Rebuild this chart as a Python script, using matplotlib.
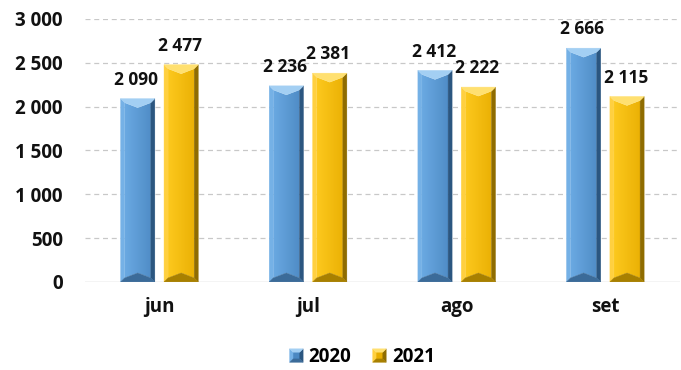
import matplotlib
matplotlib.use("Agg")
import matplotlib.pyplot as plt
from matplotlib.patches import Polygon, Rectangle
from matplotlib.legend_handler import HandlerBase
from matplotlib.colors import LinearSegmentedColormap
import numpy as np

categories = ["jun", "jul", "ago", "set"]
values_2020 = [2090, 2236, 2412, 2666]
values_2021 = [2477, 2381, 2222, 2115]
series_names = ["2020", "2021"]
y_ticks = [0, 500, 1000, 1500, 2000, 2500, 3000]

plt.rcParams["font.family"] = ["Open Sans", "DejaVu Sans"]
plt.rcParams["font.weight"] = "bold"

# facet colours: front-left, front-right, left, right, top, bottom
palettes = {
    "2020": ["#6eade6", "#4b88c2", "#75b1e6", "#2b5680", "#a3cff3", "#3b6b99"],
    "2021": ["#ffcc22", "#e8ad00", "#ffd040", "#8f6c00", "#ffe070", "#a88000"],
}


def fmt(v):
    return f"{v:,.0f}".replace(",", " ")


def bevel_polys(x0, x1, y0, y1, bx, bs, bv):
    """Front, left, right, top and bottom facets of a bevelled bar.
    bx: side bevel width, bs: bevel height at the corners, bv: chevron depth."""
    xc = (x0 + x1) / 2
    front = [(x0 + bx, y0 + bs), (xc, y0 + bv), (x1 - bx, y0 + bs),
             (x1 - bx, y1 - bs), (xc, y1 - bv), (x0 + bx, y1 - bs)]
    left = [(x0, y0), (x0 + bx, y0 + bs), (x0 + bx, y1 - bs), (x0, y1)]
    right = [(x1, y0), (x1, y1), (x1 - bx, y1 - bs), (x1 - bx, y0 + bs)]
    top = [(x0, y1), (x1, y1), (x1 - bx, y1 - bs), (xc, y1 - bv), (x0 + bx, y1 - bs)]
    bottom = [(x0, y0), (x1, y0), (x1 - bx, y0 + bs), (xc, y0 + bv), (x0 + bx, y0 + bs)]
    return front, left, right, top, bottom


fig = plt.figure(figsize=(6.81, 3.70), dpi=100)
ax = fig.add_axes([0.125, 0.238, 0.873, 0.711])

x = np.arange(len(categories))
width = 0.23
offset = 0.146
ax.set_xlim(-0.5, len(categories) - 0.5)
ax.set_ylim(0, 3000)

# pixel -> data scale factors
ax_w_px = fig.get_figwidth() * fig.dpi * 0.873
ax_h_px = fig.get_figheight() * fig.dpi * 0.711
dx = len(categories) / ax_w_px
dy = 3000 / ax_h_px

grad = np.linspace(0, 1, 64).reshape(1, -1)

for name, vals, sign in [("2020", values_2020, -1), ("2021", values_2021, 1)]:
    cols = palettes[name]
    cmap = LinearSegmentedColormap.from_list(name, [cols[0], cols[1]])
    for xi, v in zip(x, vals):
        xc = xi + sign * offset
        x0, x1 = xc - width / 2, xc + width / 2
        front, left, right, top, bottom = bevel_polys(x0, x1, 0, v, 4 * dx, 4 * dy, 9 * dy)
        fp = Polygon(front, closed=True, facecolor="none", edgecolor="none", zorder=3)
        ax.add_patch(fp)
        im = ax.imshow(grad, cmap=cmap, extent=(x0, x1, 0, v), aspect="auto",
                       interpolation="bilinear", zorder=3)
        im.set_clip_path(fp)
        for poly, c in zip([left, right, top, bottom], cols[2:]):
            ax.add_patch(Polygon(poly, closed=True, facecolor=c, edgecolor=c,
                                 linewidth=0.3, zorder=3))
        ax.annotate(fmt(v), (xc, v), xytext=(-1, 7), textcoords="offset points",
                    ha="center", va="bottom", fontsize=12.5, fontweight="bold",
                    color="#111111", zorder=4)

ax.set_xlim(-0.5, len(categories) - 0.5)
ax.set_ylim(0, 3000)
ax.set_yticks(y_ticks)
ax.set_yticklabels([fmt(t) for t in y_ticks])
ax.set_xticks(x)
ax.set_xticklabels(categories)
ax.tick_params(axis="both", length=0, labelsize=13.5, colors="#111111")
ax.tick_params(axis="y", pad=16)
ax.tick_params(axis="x", pad=11)
for lab in ax.get_xticklabels() + ax.get_yticklabels():
    lab.set_fontweight("bold")

for t in y_ticks[1:]:
    ax.axhline(t, color="#c8c8c8", linewidth=0.9, linestyle=(0, (4, 3)), zorder=1)
ax.axhline(0, color="#c8c8c8", linewidth=1.0, zorder=2)
for s in ax.spines.values():
    s.set_visible(False)


class BevelHandler(HandlerBase):
    def __init__(self, cols):
        super().__init__()
        self.cols = cols

    def create_artists(self, legend, orig_handle, xdescent, ydescent, width,
                       height, fontsize, trans):
        s = min(width, height) * 0.9
        x0 = width - s - xdescent
        y0 = -ydescent + (height - s) / 2
        b = s * 0.25
        c = self.cols
        facets = [
            ([(x0 + b, y0 + b), (x0 + s - b, y0 + b), (x0 + s - b, y0 + s - b), (x0 + b, y0 + s - b)], c[1]),
            ([(x0, y0), (x0 + b, y0 + b), (x0 + b, y0 + s - b), (x0, y0 + s)], c[2]),
            ([(x0 + s, y0), (x0 + s, y0 + s), (x0 + s - b, y0 + s - b), (x0 + s - b, y0 + b)], c[3]),
            ([(x0, y0 + s), (x0 + s, y0 + s), (x0 + s - b, y0 + s - b), (x0 + b, y0 + s - b)], c[4]),
            ([(x0, y0), (x0 + s, y0), (x0 + s - b, y0 + b), (x0 + b, y0 + b)], c[5]),
        ]
        return [Polygon(p, closed=True, facecolor=col, edgecolor=col, linewidth=0.3,
                        transform=trans) for p, col in facets]


h1 = Rectangle((0, 0), 1, 1)
h2 = Rectangle((0, 0), 1, 1)
leg = fig.legend([h1, h2], series_names, loc="center", bbox_to_anchor=(0.53, 0.035),
                 ncol=2, frameon=False, fontsize=13.5, handlelength=0.85,
                 handleheight=0.85, handletextpad=0.3, columnspacing=1.0,
                 handler_map={h1: BevelHandler(palettes["2020"]),
                              h2: BevelHandler(palettes["2021"])})
for t in leg.get_texts():
    t.set_fontweight("bold")

fig.savefig("out.png", dpi=100)
